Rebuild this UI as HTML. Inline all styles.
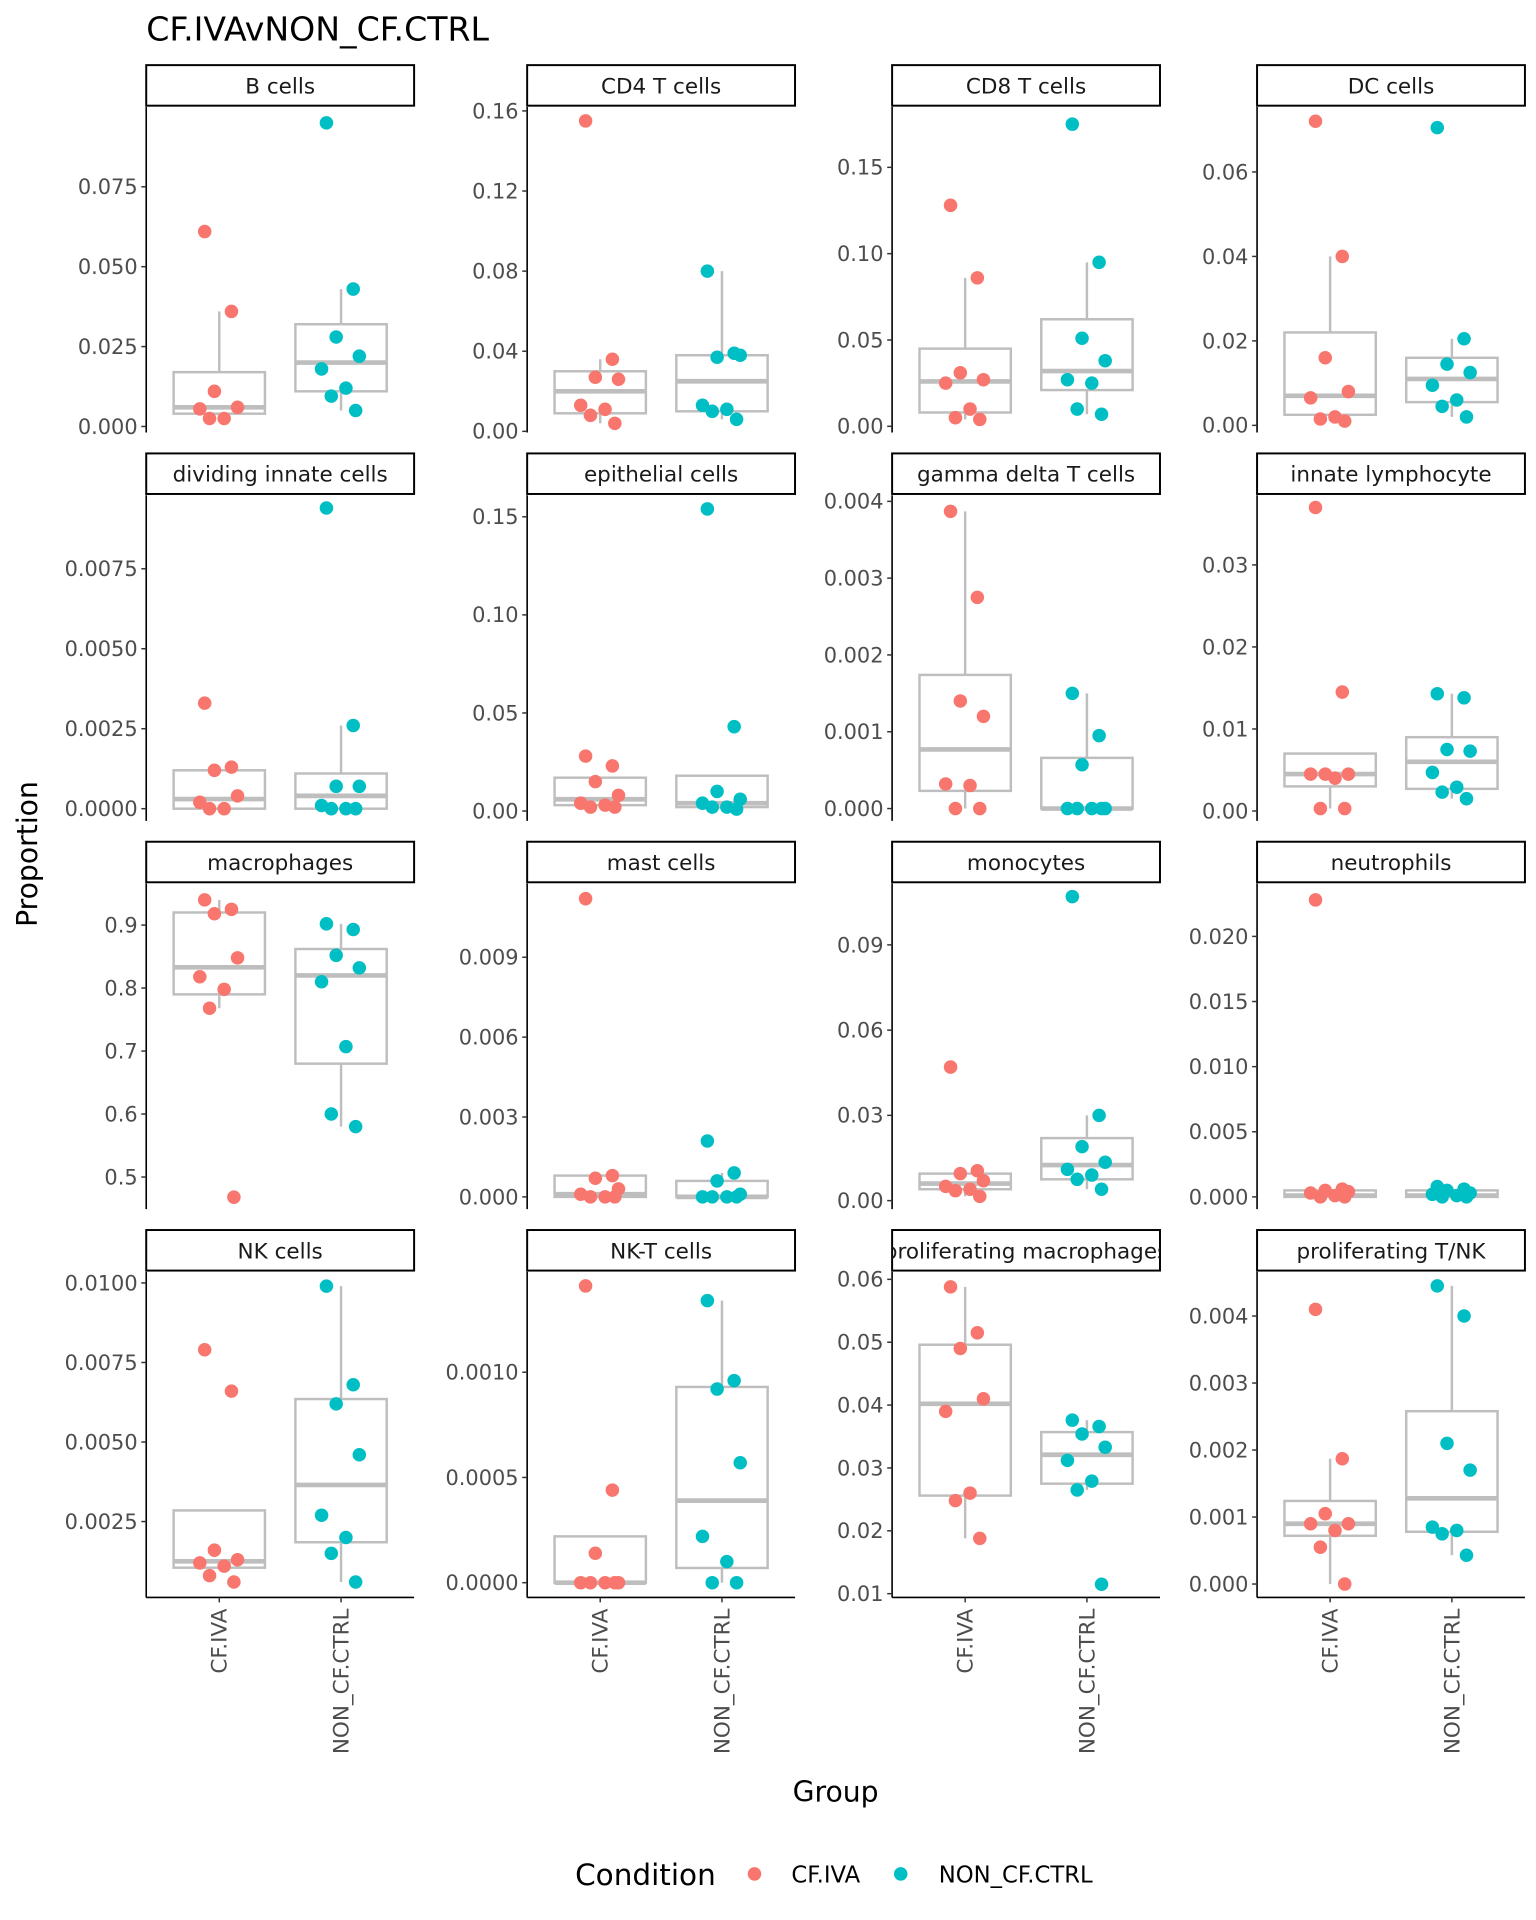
<!DOCTYPE html>
<html><head><meta charset="utf-8"><style>
html,body{margin:0;padding:0;background:#fff;}
svg{display:block;font-family:"DejaVu Sans","Liberation Sans",sans-serif;}
</style></head><body>
<svg id="chart" width="1536" height="1920" viewBox="0 0 1250 1562.5" xmlns="http://www.w3.org/2000/svg">
<text x="119" y="33" font-size="27" fill="#000">CF.IVAvNON_CF.CTRL</text>
<text transform="translate(30,695) rotate(-90)" text-anchor="middle" font-size="23" fill="#000">Proportion</text>
<text x="680" y="1466" text-anchor="middle" font-size="23" fill="#000">Group</text>
<g>
<text x="468" y="1534" font-size="24" fill="#000">Condition</text>
<circle cx="614" cy="1525" r="5.5" fill="#F8766D"/>
<text x="644" y="1532" font-size="18.5" fill="#000">CF.IVA</text>
<circle cx="733" cy="1525" r="5.5" fill="#00BFC4"/>
<text x="764" y="1532" font-size="18.5" fill="#000">NON_CF.CTRL</text>
</g>
<g id="panels"></g>
</svg>
<script>
const panelNames = ["B cells","CD4 T cells","CD8 T cells","DC cells","dividing innate cells","epithelial cells","gamma delta T cells","innate lymphocyte","macrophages","mast cells","monocytes","neutrophils","NK cells","NK-T cells","proliferating macrophages","proliferating T/NK"];
const groups = ["CF.IVA","NON_CF.CTRL"];
const yDomains = [[-0.0019,0.1],[-0.0006,0.162],[-0.0036,0.185],[-0.0017,0.0754],[-0.00038,0.0098],[-0.005,0.161],[-0.00016,0.00408],[-0.0012,0.0385],[0.449,0.966],[-0.00046,0.01177],[-0.003,0.1116],[-0.00094,0.02406],[0.000115,0.01035],[-0.00007,0.001477],[0.0094,0.0612],[-0.0002,0.00466]];
const tickValues = [[0,0.025,0.05,0.075],[0,0.04,0.08,0.12,0.16],[0,0.05,0.1,0.15],[0,0.02,0.04,0.06],[0,0.0025,0.005,0.0075],[0,0.05,0.1,0.15],[0,0.001,0.002,0.003,0.004],[0,0.01,0.02,0.03],[0.5,0.6,0.7,0.8,0.9],[0,0.003,0.006,0.009],[0,0.03,0.06,0.09],[0,0.005,0.01,0.015,0.02],[0.0025,0.005,0.0075,0.01],[0,0.0005,0.001],[0.01,0.02,0.03,0.04,0.05,0.06],[0,0.001,0.002,0.003,0.004]];
const tickDecimals = [3,2,2,2,4,2,3,2,1,3,2,3,4,4,2,3];
const cfValues = [
[0.061,0.036,0.011,0.006,0.0055,0.0025,0.0025],
[0.155,0.036,0.027,0.026,0.013,0.011,0.008,0.004],
[0.128,0.086,0.031,0.027,0.025,0.010,0.005,0.004],
[0.072,0.040,0.016,0.008,0.0065,0.002,0.0015,0.001],
[0.0033,0.0013,0.0012,0.0004,0.0002,0,0],
[0.028,0.023,0.015,0.008,0.004,0.003,0.002,0.002],
[0.00387,0.00275,0.0014,0.0012,0.00032,0.0003,0,0],
[0.037,0.0145,0.0045,0.0045,0.0045,0.004,0.0003,0.0003],
[0.94,0.925,0.918,0.848,0.818,0.798,0.768,0.468],
[0.0112,0.0008,0.0007,0.0003,0.0001,0,0,0],
[0.047,0.0105,0.0095,0.007,0.005,0.004,0.0035,0.0015],
[0.0228,0.0006,0.0005,0.0004,0.0003,0.0001,0,0],
[0.0079,0.0066,0.0016,0.0013,0.0012,0.0011,0.0008,0.0006],
[0.00141,0.00044,0.00014,0,0,0,0,0],
[0.0588,0.0515,0.049,0.041,0.039,0.026,0.0248,0.0188],
[0.0041,0.00187,0.00105,0.0009,0.0009,0.0008,0.00055,0]];
const ctrlValues = [
[0.095,0.043,0.028,0.022,0.018,0.012,0.0095,0.005],
[0.080,0.039,0.037,0.038,0.013,0.011,0.010,0.006],
[0.175,0.095,0.051,0.038,0.027,0.025,0.010,0.007],
[0.0705,0.0205,0.0145,0.0125,0.0095,0.006,0.0045,0.002],
[0.0094,0.0026,0.0007,0.0007,0.0001,0,0,0],
[0.154,0.043,0.010,0.006,0.004,0.002,0.002,0.001],
[0.0015,0.00095,0.00057,0,0,0,0,0],
[0.0143,0.0138,0.0075,0.0073,0.0047,0.0029,0.0023,0.0015],
[0.902,0.893,0.852,0.832,0.81,0.707,0.6,0.58],
[0.0021,0.0009,0.0006,0.0001,0,0,0,0],
[0.107,0.030,0.019,0.0135,0.011,0.009,0.0075,0.004],
[0.0008,0.0006,0.0005,0.0003,0.0002,0.0001,0,0],
[0.0099,0.0068,0.0062,0.0046,0.0027,0.002,0.0015,0.0006],
[0.00134,0.00096,0.00092,0.00057,0.00022,0.0001,0,0],
[0.0376,0.0366,0.0354,0.0333,0.0312,0.0279,0.0265,0.0115],
[0.00445,0.004,0.0021,0.0017,0.00085,0.0008,0.00075,0.00043]];
// box stats: [lower whisker, q1, median, q3, upper whisker]
const cfBoxes = [
[0.002,0.004,0.006,0.017,0.036],[0.004,0.009,0.020,0.030,0.036],[0.004,0.008,0.026,0.045,0.086],[0.001,0.0025,0.007,0.022,0.040],
[0,0,0.0003,0.0012,0.0013],[0.002,0.003,0.006,0.017,0.017],[0,0.00023,0.00077,0.00174,0.00387],[0.0003,0.003,0.0045,0.007,0.007],
[0.768,0.79,0.833,0.92,0.94],[0,0,0.0001,0.0008,0.0008],[0.0015,0.004,0.006,0.0095,0.0105],[0,0,0.0001,0.0005,0.0006],
[0.001,0.00105,0.00125,0.00285,0.00285],[0,0,0,0.00022,0.00022],[0.0188,0.0256,0.0402,0.0496,0.0588],[0,0.00072,0.0009,0.00124,0.00187]];
const ctrlBoxes = [
[0.005,0.011,0.020,0.032,0.043],[0.006,0.010,0.025,0.038,0.080],[0.007,0.021,0.032,0.062,0.095],[0.002,0.0055,0.011,0.016,0.0205],
[0,0,0.0004,0.0011,0.0026],[0.001,0.002,0.004,0.018,0.018],[0,0,0,0.00066,0.0015],[0.0015,0.0027,0.006,0.009,0.0143],
[0.58,0.68,0.82,0.862,0.902],[0,0,0,0.0006,0.0009],[0.004,0.0075,0.0125,0.022,0.030],[0,0,0.0001,0.0005,0.0008],
[0.0006,0.00185,0.00365,0.00635,0.0099],[0,0.00007,0.00039,0.00093,0.00134],[0.0265,0.0275,0.0321,0.0357,0.0376],[0.00043,0.00078,0.00128,0.00258,0.00445]];
const jitterPattern = [-0.12,0.1,-0.04,0.15,-0.16,0.04,-0.08,0.12];

const NS = "http://www.w3.org/2000/svg";
const root = document.getElementById("panels");
const colX = [119,429,726,1023], rowTop = [87,403,719,1035], PW = 218, PH = 265;
const colors = ["#F8766D","#00BFC4"];
function mk(tag, attrs, parent){const e=document.createElementNS(NS,tag);for(const k in attrs)e.setAttribute(k,attrs[k]);parent.appendChild(e);return e;}
panelNames.forEach((name,i)=>{
  const c=i%4, r=Math.floor(i/4), x0=colX[c], y0=rowTop[r];
  const [lo,hi]=yDomains[i];
  const ys=v=>y0+PH-(v-lo)/(hi-lo)*PH;
  const xs=u=>x0+(u-0.4)/2.2*PW;
  const slug=name.toLowerCase().replace(/[^a-z0-9]+/g,'-');
  const g=mk("g",{},root);
  
  
  const cp=mk("clipPath",{id:"clip"+i},g);
  mk("rect",{x:x0,y:y0-34,width:PW,height:33},cp);
  const strip=mk("rect",{x:x0,y:y0-34,width:PW,height:33,fill:"#fff",stroke:"#000","stroke-width":1.6},g);
  
  
  const st=mk("text",{x:x0+PW/2,y:y0-11,"text-anchor":"middle","font-size":17.5,fill:"#1a1a1a","clip-path":"url(#clip"+i+")"},g);
  st.textContent=name;
  
  
  const ax=mk("line",{x1:x0,y1:y0,x2:x0,y2:y0+PH,stroke:"#000","stroke-width":1.3},g);
  
  
  tickValues[i].forEach(t=>{
    const y=ys(t);
    mk("line",{x1:x0-4,y1:y,x2:x0,y2:y,stroke:"#333","stroke-width":1.2},g);
    const tl=mk("text",{x:x0-7,y:y+6,"text-anchor":"end","font-size":17,fill:"#4D4D4D"},g);
    tl.textContent=t.toFixed(tickDecimals[i]);
    
    
  });
  [cfBoxes[i],ctrlBoxes[i]].forEach((b,k)=>{
    const cx=xs(k+1), hw=0.375/2.2*PW;
    const bg=mk("g",{fill:"none",stroke:"#BEBEBE","stroke-width":2},g);
    
    
    mk("line",{x1:cx,y1:ys(b[4]),x2:cx,y2:ys(b[3])},bg);
    mk("line",{x1:cx,y1:ys(b[1]),x2:cx,y2:ys(b[0])},bg);
    mk("rect",{x:cx-hw,y:ys(b[3]),width:2*hw,height:Math.max(0,ys(b[1])-ys(b[3]))},bg);
    mk("line",{x1:cx-hw,y1:ys(b[2]),x2:cx+hw,y2:ys(b[2]),"stroke-width":3.8},bg);
  });
  [cfValues[i],ctrlValues[i]].forEach((vals,k)=>{
    vals.forEach((v,j)=>{
      const p=mk("circle",{cx:xs(k+1+jitterPattern[j%jitterPattern.length]),cy:ys(v),r:5.5,fill:colors[k]},g);
      
      
    });
  });
  if(r===3){
    const xa=mk("line",{x1:x0,y1:y0+PH,x2:x0+PW,y2:y0+PH,stroke:"#000","stroke-width":1.3},g);
    
    
    groups.forEach((gn,k)=>{
      const cx=xs(k+1);
      mk("line",{x1:cx,y1:y0+PH,x2:cx,y2:y0+PH+4,stroke:"#333","stroke-width":1.2},g);
      const xl=mk("text",{transform:"translate("+(cx+6)+","+(y0+PH+9)+") rotate(-90)","text-anchor":"end","font-size":17.5,fill:"#4D4D4D"},g);
      xl.textContent=gn;
      
      
    });
  }
});
</script>
</body></html>
